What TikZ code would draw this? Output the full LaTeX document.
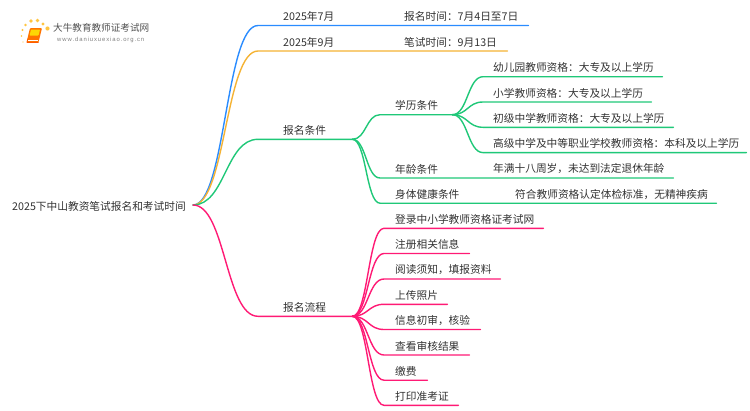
\documentclass[tikz,border=0pt]{standalone}
\usepackage{fontspec}
\usetikzlibrary{calc}
\setmainfont{Noto Sans CJK SC}
\newfontfamily\latinlogo{Liberation Sans}
\definecolor{cblue}{HTML}{2A8CFF}
\definecolor{corange}{HTML}{F5B334}
\definecolor{cgreen}{HTML}{1FC878}
\definecolor{cpink}{HTML}{FF1A75}
\definecolor{ctext}{HTML}{333333}
\tikzset{
  lbl/.style={anchor=south west,inner xsep=0pt,inner ysep=3.8pt,text=ctext,font=\fontsize{10.7}{12}\selectfont},
  link/.style={line width=1.4pt,line cap=round}
}
% \leaf{name}{parent}{colour}{curve end x}{text x}{line end x}{y}{text}
\newcommand{\leaf}[8]{%
  \node[lbl,text width=#6pt-#4pt,align=left] (#1) at (#4,#7) {\hspace*{\dimexpr#5pt-#4pt\relax}#8};
  \draw[link,color=#3] let \p1=(#2),\p2=(#1.south west),\p3=(#1.south east) in
    (\p1) .. controls ({0.5*\x1+0.5*\x2},\y1) and ({0.5*\x1+0.5*\x2},\y2) .. (\p2) -- (\p3);
}
\begin{document}
\begin{tikzpicture}[x=1pt,y=-1pt]
\useasboundingbox (0,0) rectangle (750,410);
\fill[white] (0,0) rectangle (750,410);
% root
\node[lbl,anchor=base west,inner sep=0pt] (root) at (12,210.3) {2025下中山教资笔试报名和考试时间};
\coordinate (r) at (193,205);
% top branches
\leaf{jul}{r}{cblue}{258}{283}{528}{25.5}{2025年7月}
\node[lbl] (julb) at (404,25.5) {报名时间：7月4日至7日};
\leaf{sep}{r}{corange}{258}{283}{507}{51}{2025年9月}
\node[lbl] (sepb) at (404,51) {笔试时间：9月13日};
% conditions
\leaf{cond}{r}{cgreen}{258}{283}{352}{139.3}{报名条件}
\coordinate (c) at (cond.south east);
\leaf{edu}{c}{cgreen}{380}{395}{452}{114.7}{学历条件}
\coordinate (e) at (edu.south east);
\leaf{e1}{e}{cgreen}{483}{493}{662}{76.7}{幼儿园教师资格：大专及以上学历}
\leaf{e2}{e}{cgreen}{483}{493}{651}{102}{小学教师资格：大专及以上学历}
\leaf{e3}{e}{cgreen}{483}{493}{673}{127.3}{初级中学教师资格：大专及以上学历}
\leaf{e4}{e}{cgreen}{483}{493}{746}{152.6}{高级中学及中等职业学校教师资格：本科及以上学历}
\leaf{age}{c}{cgreen}{380}{395}{673}{178}{年龄条件}
\node[lbl] (ageb) at (493,178) {年满十八周岁，未达到法定退休年龄};
\leaf{body}{c}{cgreen}{380}{395}{716}{203.2}{身体健康条件}
\node[lbl] (bodyb) at (515,203.2) {符合教师资格认定体检标准，无精神疾病};
% process
\leaf{proc}{r}{cpink}{258}{283}{352}{316.3}{报名流程}
\coordinate (p) at (proc.south east);
\leaf{p1}{p}{cpink}{384}{395}{543}{228.3}{登录中小学教师资格证考试网}
\leaf{p2}{p}{cpink}{384}{395}{469}{253.5}{注册相关信息}
\leaf{p3}{p}{cpink}{384}{395}{500}{279}{阅读须知，填报资料}
\leaf{p4}{p}{cpink}{384}{395}{447}{304.3}{上传照片}
\leaf{p5}{p}{cpink}{384}{395}{480}{329.5}{信息初审，核验}
\leaf{p6}{p}{cpink}{384}{395}{469}{355}{查看审核结果}
\leaf{p7}{p}{cpink}{384}{395}{427}{380.2}{缴费}
\leaf{p8}{p}{cpink}{384}{395}{458}{405.3}{打印准考证}
% logo
\foreach \xx/\yy/\rr in {31/21/1.9,37.5/20.5/1.9,43/24/1.6,47.5/28.5/2.1,25.5/25/1.4,22.5/30/1.1,21.5/36/0.9,23/42/0.7}
  \fill[orange!60!yellow,opacity=.75] (\xx,\yy) circle (\rr);
\fill[orange!90!red,rounded corners=1pt] (30,28) -- (42,28) -- (38.5,42.5) -- (26.5,42.5) -- cycle;
\fill[yellow!75!orange,rounded corners=.6pt] (31,29.5) -- (40,29.5) -- (38.5,35.5) -- (29.5,35.5) -- cycle;
\draw[orange!70!red,line width=.7pt,line join=round] (28,38.5) -- (27,42.5) -- (38.5,42.5);
\draw[white,line width=.6pt] (28.3,40.3) -- (38,40.3);
\node[anchor=base west,inner sep=0pt,text=ctext!85,font=\fontsize{9.6}{11}\selectfont] (logot) at (53,31) {大牛教育教师证考试网};
\node[anchor=base west,inner sep=0pt,text=gray,font=\latinlogo\fontsize{5.9}{7}\selectfont] (logou) at (57,41) {w\kern.9pt w\kern.9pt w\kern.9pt.\kern.9pt d\kern.9pt a\kern.9pt n\kern.9pt i\kern.9pt u\kern.9pt x\kern.9pt u\kern.9pt e\kern.9pt x\kern.9pt i\kern.9pt a\kern.9pt o\kern.9pt.\kern.9pt o\kern.9pt r\kern.9pt g\kern.9pt.\kern.9pt c\kern.9pt n};
\end{tikzpicture}
\end{document}
